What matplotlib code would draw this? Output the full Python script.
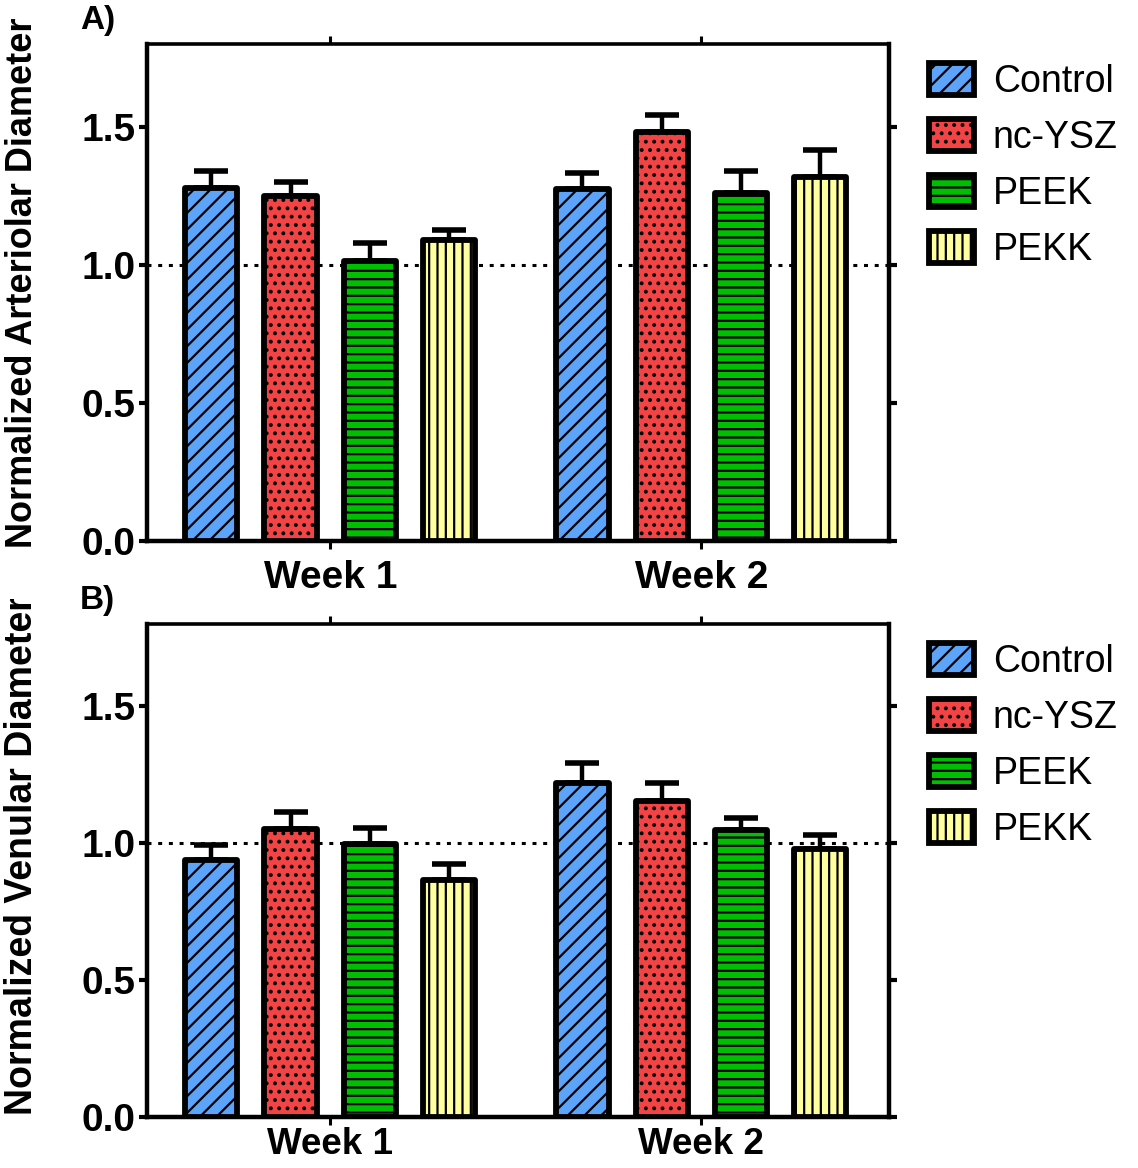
import matplotlib
matplotlib.use("Agg")
import matplotlib.pyplot as plt
import numpy as np
from matplotlib.transforms import Bbox

plt.rcParams['font.family'] = ['Liberation Sans', 'DejaVu Sans']
plt.rcParams['hatch.linewidth'] = 1.6

groups = ["Week 1", "Week 2"]
series = ["Control", "nc-YSZ", "PEEK", "PEKK"]
colors = ["#5BA4FA", "#F24444", "#00BE00", "#FFFFA0"]
hatches = ["//", "..", "--", "||"]

# Panel A: normalized arteriolar diameter (means and upper SEM)
art_mean = {"Control": [1.28, 1.275], "nc-YSZ": [1.25, 1.48],
            "PEEK": [1.015, 1.26], "PEKK": [1.09, 1.32]}
art_err = {"Control": [0.06, 0.058], "nc-YSZ": [0.05, 0.063],
           "PEEK": [0.065, 0.08], "PEKK": [0.038, 0.097]}
# Panel B: normalized venular diameter
ven_mean = {"Control": [0.94, 1.219], "nc-YSZ": [1.052, 1.154],
            "PEEK": [0.997, 1.048], "PEKK": [0.866, 0.979]}
ven_err = {"Control": [0.053, 0.075], "nc-YSZ": [0.061, 0.064],
           "PEEK": [0.057, 0.043], "PEKK": [0.058, 0.05]}

yticks = [0.0, 0.5, 1.0, 1.5]
ytick_labels = ["0.0", "0.5", "1.0", "1.5"]

W, H = 1138, 1168
fig = plt.figure(figsize=(W / 100, H / 100), dpi=100)

group_pos = np.array([0.0, 4.68])
offsets = np.array([-1.5, -0.5, 0.5, 1.5])
bar_w = 0.66


def rect_top_px(rect):
    return H * (1 - (rect[1] + rect[3]))


def panel(rect, means, errs, ylabel, tag, label_y, label_fs, xfs, xpad,
          clip_top=None):
    ax = fig.add_axes(rect)
    handles = []
    for i, s in enumerate(series):
        x = group_pos + offsets[i]
        m = np.array(means[s])
        e = np.array(errs[s])
        ax.errorbar(x, m, yerr=[np.zeros_like(e), e], fmt='none', ecolor='black',
                    elinewidth=3.2, capsize=12, capthick=4.0, zorder=2)
        b = ax.bar(x, m, width=bar_w, color=colors[i], edgecolor='black',
                   linewidth=4.2, hatch=hatches[i], label=s, zorder=3)
        for p in b:
            p.set_joinstyle('round')
        handles.append(b)
    ax.axhline(1.0, color='black', lw=2.2, ls=(0, (1.3, 2.2)), zorder=1)
    ax.set_xlim(-2.311, 7.046)
    ax.set_ylim(0, 1.8)
    ax.set_yticks(yticks)
    ax.set_yticklabels(ytick_labels, fontsize=28, fontweight='bold')
    ax.set_xticks(group_pos)
    ax.set_xticklabels(groups, fontsize=xfs, fontweight='bold')
    ax.tick_params(axis='y', which='both', left=True, right=True, direction='out',
                   length=6, width=3, pad=2)
    ax.tick_params(axis='x', which='both', bottom=True, top=True, direction='out',
                   length=6, width=2.2, pad=xpad)
    for sp in ['left', 'bottom', 'right']:
        ax.spines[sp].set_linewidth(3.2)
    ax.spines['top'].set_linewidth(2.6)
    yl = ax.set_ylabel(ylabel, fontsize=label_fs, fontweight='bold')
    ax.yaxis.set_label_coords(-0.144, label_y)
    if clip_top is not None:
        yl.set_clip_box(Bbox.from_extents(0, 0, 200, H - clip_top))
        yl.set_clip_on(True)
    ax.text(-0.09, 1.016, tag, transform=ax.transAxes, fontsize=24,
            fontweight='bold', ha='left', va='bottom')
    ax.legend(handles=handles, labels=series, loc='upper left',
              bbox_to_anchor=(929 / W, 1 - (rect_top_px(rect) + 19) / H),
              bbox_transform=fig.transFigure, frameon=False, fontsize=27,
              handlelength=1.2, handleheight=0.93, handletextpad=0.5,
              labelspacing=0.51, borderpad=0, borderaxespad=0)
    return ax


axA = panel([147 / W, 1 - 541 / H, 742 / W, 497 / H], art_mean, art_err,
            "Normalized Arteriolar Diameter", "A)", 0.519, 26, 28, 8)
axB = panel([147 / W, 1 - 1117 / H, 742 / W, 493 / H], ven_mean, ven_err,
            "Normalized Venular Diameter", "B)", 0.531, 27, 26.5, 1.5,
            clip_top=599)

fig.savefig("out.png", dpi=100)
